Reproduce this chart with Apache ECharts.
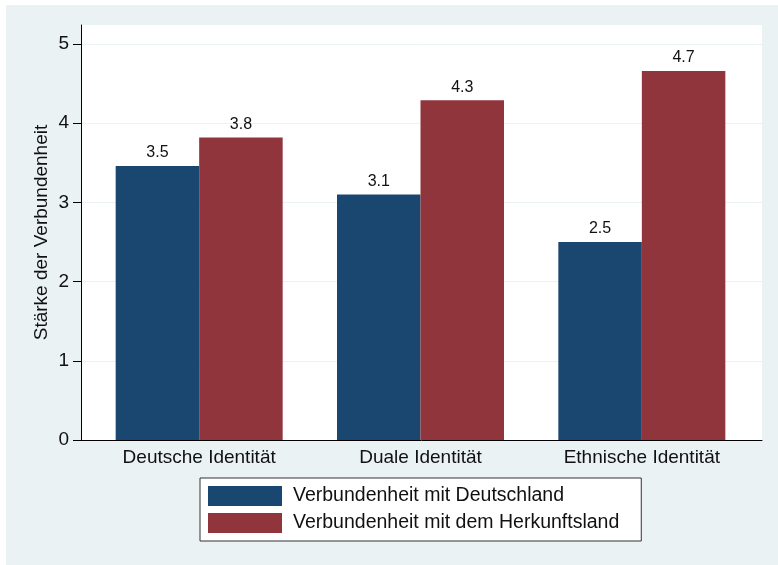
<!DOCTYPE html>
<html>
<head>
<meta charset="utf-8">
<script src="https://cdn.jsdelivr.net/npm/echarts@6/dist/echarts.min.js"></script>
<style>
html,body{margin:0;padding:0;background:#ffffff;}
#chart{width:778px;height:565px;}
</style>
</head>
<body>
<div id="chart"></div>
<script>
var categories = ['Deutsche Identität', 'Duale Identität', 'Ethnische Identität'];
var seriesNames = ['Verbundenheit mit Deutschland', 'Verbundenheit mit dem Herkunftsland'];
var deutschland = [3.46, 3.10, 2.50];
var herkunftsland = [3.82, 4.29, 4.66];
var yTicks = [0, 1, 2, 3, 4, 5];
var yTitle = 'Stärke der Verbundenheit';

var FONT = 'Liberation Sans, Arial, Helvetica, sans-serif';
var chart = echarts.init(document.getElementById('chart'));
var labelCfg = {
  show: true, position: 'top', distance: 5,
  color: '#111', fontSize: 16, fontFamily: FONT,
  formatter: function (p) { return p.value.toFixed(1); }
};
chart.setOption({
  animation: false,
  backgroundColor: '#ffffff',
  graphic: [{
    type: 'rect', z: -10, silent: true,
    shape: { x: 6, y: 5, width: 772, height: 560 },
    style: { fill: '#EAF2F3' }
  }],
  grid: [
    { left: 81, right: 16, top: 25, bottom: 125, show: true, backgroundColor: '#ffffff', borderWidth: 0 },
    { left: 88.5, right: 25.5, top: 25, bottom: 125 }
  ],
  xAxis: [
    { gridIndex: 0, type: 'value', min: 0, max: 1,
      axisLine: { show: true, lineStyle: { color: '#000', width: 1 } },
      axisTick: { show: false }, axisLabel: { show: false }, splitLine: { show: false } },
    { gridIndex: 1, type: 'category', data: categories,
      axisLine: { show: false }, axisTick: { show: false },
      axisLabel: { color: '#111', fontSize: 19, fontFamily: FONT, margin: 8 } }
  ],
  yAxis: [
    { gridIndex: 0, type: 'value', min: 0, max: 5.24, interval: 1,
      name: yTitle, nameLocation: 'middle', nameGap: 30, nameMoveOverlap: false,
      nameTextStyle: { color: '#111', fontSize: 19, fontFamily: FONT },
      axisLine: { show: true, lineStyle: { color: '#000', width: 1 } },
      axisTick: { show: true, length: 8, customValues: yTicks, lineStyle: { color: '#000' } },
      axisLabel: { customValues: yTicks, color: '#111', fontSize: 19, fontFamily: FONT, margin: 12 },
      splitLine: { show: true, lineStyle: { color: '#EAF2F3', width: 1 } } },
    { gridIndex: 1, type: 'value', min: 0, max: 5.24, show: false, splitLine: { show: false } }
  ],
  legend: {
    orient: 'vertical', left: 200, top: 478,
    data: seriesNames,
    icon: 'rect', itemWidth: 74, itemHeight: 20, itemGap: 7,
    padding: [8, 22, 8, 8],
    backgroundColor: '#ffffff', borderColor: '#333', borderWidth: 1,
    textStyle: { color: '#111', fontSize: 19.5, fontFamily: FONT, padding: [0, 0, 0, 6] }
  },
  series: [
    { name: seriesNames[0], type: 'bar', xAxisIndex: 1, yAxisIndex: 1,
      data: deutschland, barWidth: 83.5, barGap: '0%',
      itemStyle: { color: '#1A476F' }, label: labelCfg },
    { name: seriesNames[1], type: 'bar', xAxisIndex: 1, yAxisIndex: 1,
      data: herkunftsland, barWidth: 83.5, barGap: '0%',
      itemStyle: { color: '#90353B' }, label: labelCfg }
  ]
});
</script>
</body>
</html>
